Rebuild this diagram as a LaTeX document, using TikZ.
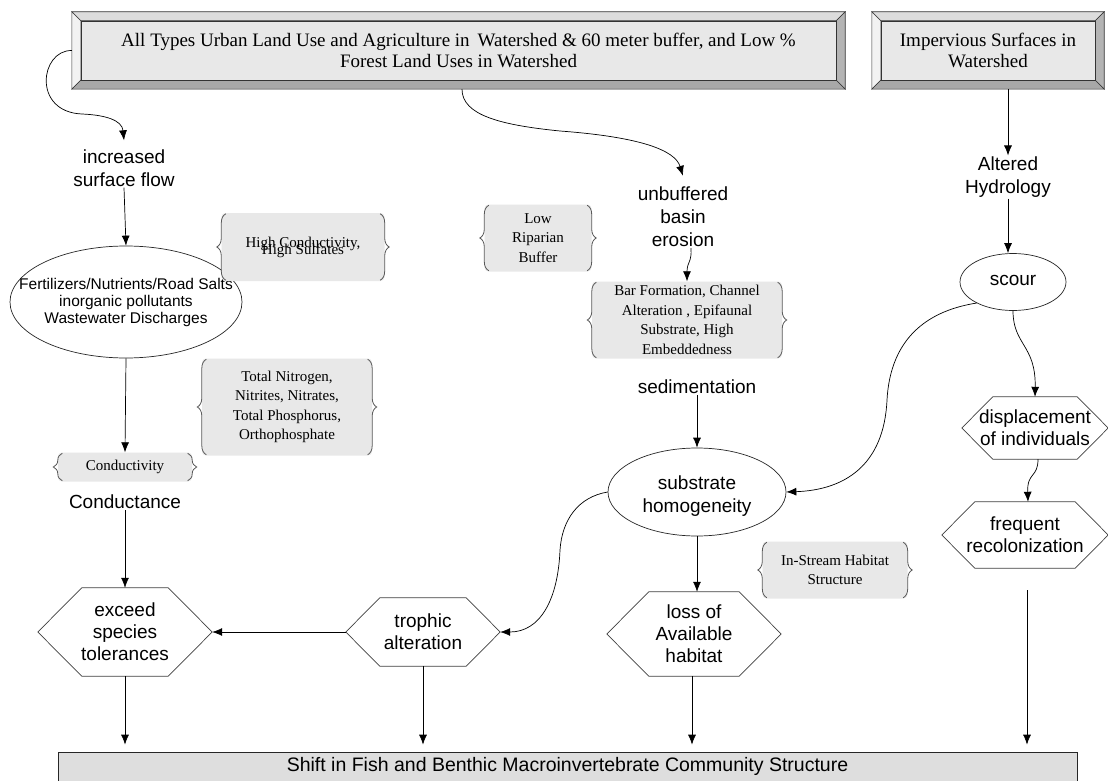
\documentclass[tikz,border=0pt]{standalone}
\usepackage{fontspec}
\setmainfont{Liberation Serif}
\newfontfamily\sansf{Liberation Sans}
\usetikzlibrary{shapes.geometric,arrows.meta,decorations.pathreplacing,calc}
\definecolor{face}{HTML}{E8E8E8}
\definecolor{bevL}{HTML}{F2F2F2}
\definecolor{bevT}{HTML}{DCDCDC}
\definecolor{bevR}{HTML}{B4B4B4}
\definecolor{bevB}{HTML}{A8A8A8}
\definecolor{boxgray}{HTML}{E8E8E8}
\definecolor{botgray}{HTML}{DEDEDE}
\newcommand\hexpath[2]{\draw[hexline] (#1.west) -- ([xshift=#2]#1.north west) -- ([xshift=-#2]#1.north east) -- (#1.east) -- ([xshift=-#2]#1.south east) -- ([xshift=#2]#1.south west) -- cycle;}
\newcommand\bracepair[1]{%
  \draw[brc] ([xshift=4.5pt,yshift=1pt]#1.south west) -- ([xshift=4.5pt,yshift=-1pt]#1.north west);
  \draw[brc] ([xshift=-4.5pt,yshift=-1pt]#1.north east) -- ([xshift=-4.5pt,yshift=1pt]#1.south east);}
\newcommand\bevelframe[1]{%
  \filldraw[bevT,draw=black!80,line width=0.6pt] (#1.north west) -- (#1.north east) -- ([shift={(-9pt,-9pt)}]#1.north east) -- ([shift={(9pt,-9pt)}]#1.north west) -- cycle;
  \filldraw[bevL,draw=black!80,line width=0.6pt] (#1.north west) -- ([shift={(9pt,-9pt)}]#1.north west) -- ([shift={(9pt,9pt)}]#1.south west) -- (#1.south west) -- cycle;
  \filldraw[bevR,draw=black!80,line width=0.6pt] (#1.north east) -- (#1.south east) -- ([shift={(-9pt,9pt)}]#1.south east) -- ([shift={(-9pt,-9pt)}]#1.north east) -- cycle;
  \filldraw[bevB,draw=black!80,line width=0.6pt] (#1.south west) -- ([shift={(9pt,9pt)}]#1.south west) -- ([shift={(-9pt,9pt)}]#1.south east) -- (#1.south east) -- cycle;}
\begin{document}
\begin{tikzpicture}[x=1pt,y=-1pt,
  lbl/.style={font=\sansf\fontsize{19}{23}\selectfont, align=center, inner sep=1pt},
  ell/.style={ellipse, draw=black!85, line width=0.7pt, inner sep=0pt},
  hexn/.style={rectangle, draw=none, inner sep=0pt, align=center, font=\sansf\fontsize{19}{22}\selectfont},
  hexline/.style={draw=black!75, line width=0.7pt},
  brbox/.style={fill=boxgray, rounded corners=4pt, align=center, inner sep=0pt, font=\fontsize{15}{19.5}\selectfont},
  brc/.style={decorate, decoration={brace, amplitude=9pt}, draw=black!65, line width=0.8pt},
  arr/.style={-{Latex[length=10pt,width=8pt]}, line width=0.7pt},
  face/.style={draw=black!80, line width=0.6pt, fill=face, inner sep=0pt, align=center, font=\fontsize{19}{21}\selectfont}
]
\useasboundingbox (0,0) rectangle (1108,781);
\fill[white] (0,0) rectangle (1108,781);

% top bevel boxes
\node[minimum width=773pt, minimum height=77pt, inner sep=0pt] (main) at (458.5,50.5) {};
\bevelframe{main}
\node[face, minimum width=755pt, minimum height=59pt] (maintext) at (main) {All Types Urban Land Use and Agriculture in\, Watershed \& 60 meter buffer, and Low \%\\Forest Land Uses in Watershed};
\node[minimum width=232pt, minimum height=77pt, inner sep=0pt] (imp) at (988,50.5) {};
\bevelframe{imp}
\node[face, minimum width=214pt, minimum height=59pt] (imptext) at (imp) {Impervious Surfaces in\\Watershed};

% left column
\node[lbl] (surf) at (124,168) {increased\\surface flow};
\node[ell, minimum width=232pt, minimum height=112pt] (fert) at (126,302) {};
\node[font=\sansf\fontsize{15.5}{17}\selectfont, align=center] (fertT) at (fert) {Fertilizers/Nutrients/Road Salts\\inorganic pollutants\\Wastewater Discharges};
\node[brbox, minimum width=163pt, minimum height=68pt, font={\fontsize{15}{7}\selectfont\lineskiplimit=-30pt}] (hc) at (303,247) {High Conductivity,\\High Sulfates};
\bracepair{hc}
\node[brbox, minimum width=170pt, minimum height=97pt] (tn) at (287,407) {Total Nitrogen,\\Nitrites, Nitrates,\\Total Phosphorus,\\Orthophosphate};
\bracepair{tn}
\node[brbox, minimum width=134pt, minimum height=29pt] (cond) at (125,467) {Conductivity};
\bracepair{cond}
\node[lbl] (condu) at (125,502) {Conductance};
\node[hexn, minimum width=174pt, minimum height=88pt] (exceed) at (125,632) {exceed\\species\\tolerances};
\hexpath{exceed}{44pt}
\node[hexn, minimum width=154pt, minimum height=68pt] (trophic) at (423,632) {trophic\\alteration};
\hexpath{trophic}{34pt}

% middle column
\node[lbl] (unb) at (683,217) {unbuffered\\basin\\erosion};
\node[brbox, minimum width=107pt, minimum height=67pt] (lowrip) at (538,238) {Low\\Riparian\\Buffer};
\bracepair{lowrip}
\node[brbox, minimum width=190pt, minimum height=77pt] (bar) at (687,320) {Bar Formation, Channel\\Alteration , Epifaunal\\Substrate, High\\Embeddedness};
\bracepair{bar}
\node[lbl] (sed) at (697,387) {sedimentation};
\node[ell, minimum width=178pt, minimum height=88pt] (subst) at (697,492) {};
\node[lbl] (substT) at (697,496) {substrate\\homogeneity};
\node[brbox, minimum width=145pt, minimum height=57pt] (instr) at (835,570) {In-Stream Habitat\\Structure};
\bracepair{instr}
\node[hexn, minimum width=174pt, minimum height=84pt] (loss) at (694,634) {loss of\\Available\\habitat};
\hexpath{loss}{42pt}

% right column
\node[lbl] (alt) at (1008,177) {Altered\\Hydrology};
\node[ell, minimum width=106pt, minimum height=57pt] (scour) at (1013,282) {};
\node[lbl] (scourT) at (1013,280) {scour};
\node[hexn, minimum width=146pt, minimum height=62pt] (disp) at (1035,428) {displacement\\of individuals};
\hexpath{disp}{31pt}
\node[hexn, minimum width=166pt, minimum height=66pt] (freq) at (1025,535) {frequent\\recolonization};
\hexpath{freq}{33pt}

% bottom box
\node[draw=black!85, line width=0.7pt, fill=botgray, minimum width=1019pt, minimum height=29pt, inner sep=0pt, font=\sansf\fontsize{19.5}{23}\selectfont] (bottom) at (567.5,766.5) {Shift in Fish and Benthic Macroinvertebrate Community Structure};

% connectors
\draw[arr] (main.west) .. controls (40,50) and (32,112) .. (82,114) .. controls (105,115) and (122,120) .. ([yshift=8pt]surf.north);
\draw[arr] (surf.south) -- (fert.north);
\draw[arr] (fert.south) -- (cond.north);
\draw[arr] (condu.south) -- (exceed.north);
\draw[arr] (trophic.west) -- (exceed.east);
\draw[arr, shorten >=7pt] (exceed.south) -- (exceed.south |- bottom.north);
\draw[arr, shorten >=7pt] (trophic.south) -- (trophic.south |- bottom.north);

\draw[arr] ([xshift=3.5pt]main.south) .. controls (462,115) and (500,125) .. (560,131) .. controls (640,137) and (675,150) .. ([yshift=10pt]unb.north);
\draw[arr] ([xshift=8pt]unb.south) .. controls (692,262) and (687,262) .. (bar.north);
\draw[arr] (sed.south) -- (subst.north);
\draw[arr] (subst.south) -- (subst.south |- loss.north);
\draw[arr, shorten >=7pt] ([xshift=-2pt]loss.south) -- ([xshift=-2pt]loss.south |- bottom.north);
\draw[arr] (subst.west) .. controls (578,497) and (562,520) .. (560,550) .. controls (558,600) and (540,632) .. (trophic.east);

\draw[arr] ([xshift=20pt]imp.south) -- (alt.north);
\draw[arr] (alt.south) -- (alt.south |- scour.north);
\draw[arr] (scour.south) .. controls (1013,345) and (1036,345) .. (disp.north);
\draw[arr] ([xshift=3pt]disp.south) .. controls (1038,478) and (1027,472) .. ([xshift=3pt]freq.north);
\draw[arr, shorten <=22pt, shorten >=7pt] ([xshift=2pt]freq.south) -- ([xshift=2pt]freq.south |- bottom.north);
\draw[arr] (scour.-150) .. controls (920,312) and (890,345) .. (887,400) .. controls (884,465) and (845,490) .. (subst.east);
\end{tikzpicture}
\end{document}
